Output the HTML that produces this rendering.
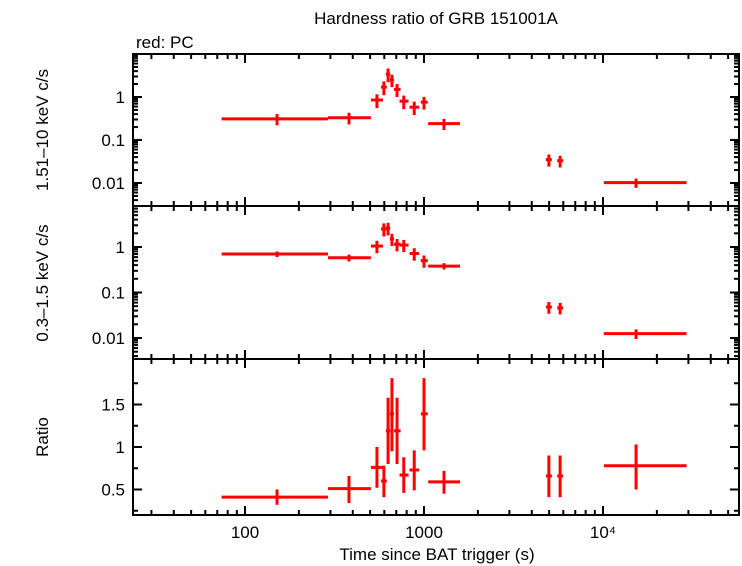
<!DOCTYPE html>
<html><head><meta charset="utf-8"><style>
body{margin:0;background:#fff;}
svg{display:block;font-family:"Liberation Sans",sans-serif;}
</style></head><body>
<svg id="c" width="742" height="566"></svg>
<script>
const times=[151,381,546,597,630,662,707,771,882,1000,1293,4985,5760,15300];
const tLo=[74,291,505,575,612,645,680,730,830,960,1055,4800,5550,10100];
const tHi=[291,505,590,620,648,680,740,820,940,1050,1590,5180,5990,29300];
const hard=[0.31,0.33,0.85,1.7,3.4,2.5,1.5,0.8,0.58,0.76,0.24,0.035,0.033,0.0102];
const hardErr=[0.09,0.1,0.3,0.6,1.2,0.8,0.5,0.28,0.2,0.25,0.07,0.011,0.01,0.0025];
const soft=[0.7,0.58,1.05,2.5,2.6,1.5,1.15,1.1,0.72,0.5,0.38,0.048,0.046,0.0125];
const softErr=[0.1,0.1,0.32,0.8,0.8,0.45,0.35,0.33,0.22,0.15,0.06,0.014,0.013,0.003];
const ratio=[0.41,0.51,0.76,0.6,1.19,1.39,1.19,0.67,0.73,1.39,0.59,0.66,0.66,0.78];
const ratioLo=[0.32,0.34,0.52,0.41,0.8,0.95,0.8,0.46,0.49,0.96,0.45,0.41,0.41,0.5];
const ratioHi=[0.5,0.66,1.0,0.78,1.58,1.81,1.58,0.88,0.96,1.81,0.72,0.9,0.9,1.03];
const xTicks=[100,1000,10000];
const xTickLabels=["100","1000","10⁴"];
const logTicks=[1,0.1,0.01];
const logTickLabels=["1","0.1","0.01"];
const ratioTicks=[0.5,1,1.5];
const ratioTickLabels=["0.5","1","1.5"];

const svg=document.getElementById('c');
const NS='http://www.w3.org/2000/svg';
const L=133,R=739;
const X=t=>245+179*(Math.log10(t)-2);
function mk(tag,attrs,name,parent){const e=document.createElementNS(NS,tag);for(const k in attrs)e.setAttribute(k,attrs[k]);


(parent||svg).appendChild(e);return e;}
function txt(s,x,y,anchor,name,rot){const e=mk('text',{x:x,y:y,'font-size':17,'text-anchor':anchor||'middle',fill:'#000'},name);if(rot)e.setAttribute('transform',`rotate(-90 ${x} ${y})`);e.textContent=s;return e;}

const panels=[
 {top:54,bot:206,Y:v=>97-43*Math.log10(v),ticks:logTicks,labels:logTickLabels,log:true,title:"1.51–10 keV c/s",ty:130,name:'hard-panel'},
 {top:206,bot:359,Y:v=>247-45.5*Math.log10(v),ticks:logTicks,labels:logTickLabels,log:true,title:"0.3–1.5 keV c/s",ty:283,name:'soft-panel'},
 {top:359,bot:515,Y:v=>447-85*(v-1),ticks:ratioTicks,labels:ratioTickLabels,log:false,title:"Ratio",ty:437,name:'ratio-panel'}
];
panels.forEach((p,pi)=>{
 const g=mk('g',{},p.name);
 mk('rect',{x:L,y:p.top,width:R-L,height:p.bot-p.top,fill:'none',stroke:'#000','stroke-width':2},p.name+'-frame',g);
 for(let d=1;d<=5;d++)for(let m=1;m<10;m++){const t=m*Math.pow(10,d);const x=X(t);if(x<=L||x>=R)continue;
  const len=m==1?9:5;
  mk('line',{x1:x,x2:x,y1:p.bot,y2:p.bot-len,stroke:'#000','stroke-width':2},'x-tick',g);
  mk('line',{x1:x,x2:x,y1:p.top,y2:p.top+len,stroke:'#000','stroke-width':2},'x-tick',g);}
 p.ticks.forEach((v,i)=>{const y=p.Y(v);
  mk('line',{x1:L,x2:L+9,y1:y,y2:y,stroke:'#000','stroke-width':2},'y-tick',g);
  mk('line',{x1:R,x2:R-9,y1:y,y2:y,stroke:'#000','stroke-width':2},'y-tick',g);
  txt(p.labels[i],125,y+6,'end','y-tick-label');});
 if(p.log){for(let d=-3;d<=1;d++)for(let m=2;m<10;m++){const y=p.Y(m*Math.pow(10,d));if(y<=p.top+1||y>=p.bot-1)continue;
  mk('line',{x1:L,x2:L+5,y1:y,y2:y,stroke:'#000','stroke-width':2},'y-minor-tick',g);
  mk('line',{x1:R,x2:R-5,y1:y,y2:y,stroke:'#000','stroke-width':2},'y-minor-tick',g);}}
 else{for(let v=0.25;v<2;v+=0.5){const y=p.Y(v);if(y<=p.top||y>=p.bot)continue;
  mk('line',{x1:L,x2:L+5,y1:y,y2:y,stroke:'#000','stroke-width':2},'y-minor-tick',g);
  mk('line',{x1:R,x2:R-5,y1:y,y2:y,stroke:'#000','stroke-width':2},'y-minor-tick',g);}}
 txt(p.title,48,p.ty,'middle',p.name+'-y-title',true);
 times.forEach((t,i)=>{
  let v,lo,hi;
  if(pi==0){v=hard[i];lo=v-hardErr[i];hi=v+hardErr[i];}
  else if(pi==1){v=soft[i];lo=v-softErr[i];hi=v+softErr[i];}
  else{v=ratio[i];lo=ratioLo[i];hi=ratioHi[i];}
  const y=p.Y(v);
  mk('line',{x1:X(tLo[i]),x2:X(tHi[i]),y1:y,y2:y,stroke:'#f00','stroke-width':3},'data-x-error',g);
  mk('line',{x1:X(t),x2:X(t),y1:p.Y(lo),y2:p.Y(hi),stroke:'#f00','stroke-width':3},'data-y-error',g);
 });
});
xTicks.forEach((t,i)=>txt(xTickLabels[i],X(t),538,'middle','x-tick-label'));
txt("Time since BAT trigger (s)",437,560,'middle','x-axis-title');
txt("Hardness ratio of GRB 151001A",436,24,'middle','chart-title');
txt("red: PC",136,48,'start','legend-label');
</script>
</body></html>
